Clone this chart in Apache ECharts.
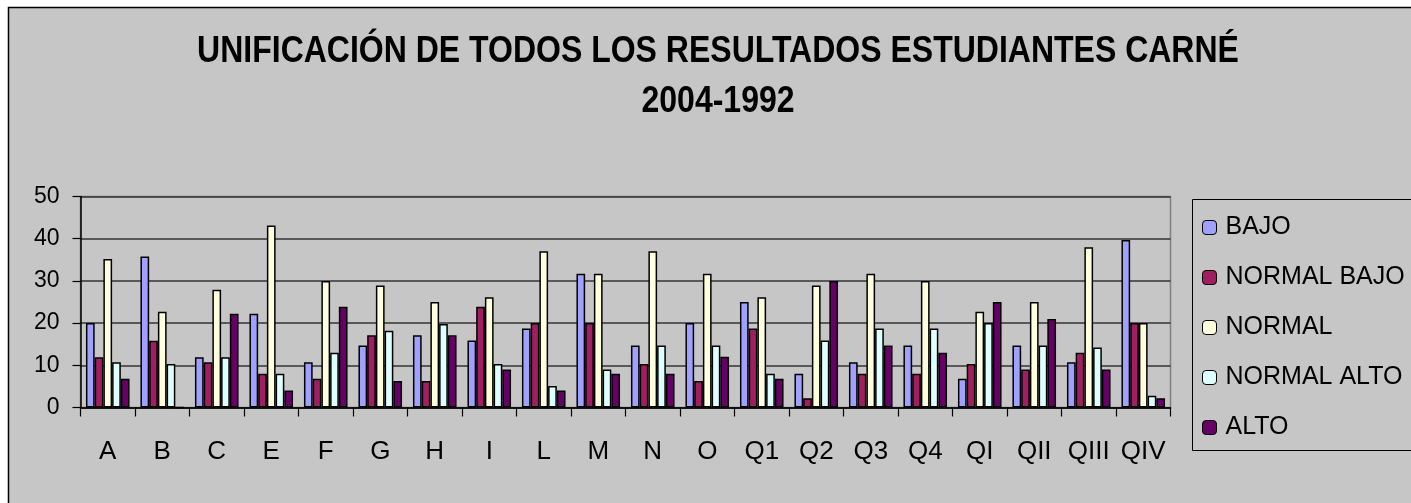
<!DOCTYPE html>
<html><head><meta charset="utf-8">
<script src="https://cdn.jsdelivr.net/npm/echarts@6/dist/echarts.min.js"></script>
<style>html,body{margin:0;padding:0;background:#fff;}#c{width:1411px;height:503px;}</style>
</head><body><div id="c"></div>
<script>
const categories = ['A','B','C','E','F','G','H','I','L','M','N','O','Q1','Q2','Q3','Q4','QI','QII','QIII','QIV'];
const bajo      = [20, 35.8, 11.9, 22.2, 10.7, 14.7, 17.1, 15.9, 18.7, 31.7, 14.7, 20, 25, 8, 10.7, 14.7, 6.8, 14.7, 10.7, 39.7];
const normalBajo= [11.9, 15.8, 10.7, 8, 6.8, 17.1, 6.3, 23.9, 20, 20, 10.3, 6.3, 18.7, 2.2, 8, 8, 10.3, 9, 13, 20];
const normal    = [35.2, 22.7, 27.9, 43.1, 30, 28.9, 25, 26.1, 37, 31.7, 37, 31.7, 26.1, 28.9, 31.7, 30, 22.7, 25, 38, 20];
const normalAlto= [10.7, 10.3, 11.9, 8, 13, 18.2, 19.8, 10.3, 5.1, 9, 14.7, 14.7, 8, 15.9, 18.7, 18.7, 20, 14.7, 14.2, 2.8];
const alto      = [6.8, 0, 22.2, 4, 23.9, 6.3, 17.1, 9, 4, 8, 8, 12, 6.8, 30, 14.7, 13, 25, 21, 9, 2.2];
const seriesNames = ['BAJO','NORMAL BAJO','NORMAL','NORMAL ALTO','ALTO'];
const titleLines = ['UNIFICACIÓN DE TODOS LOS RESULTADOS ESTUDIANTES CARNÉ','2004-1992'];
const yTicks = [0,10,20,30,40,50];

const colors = ['#a0a0ff','#a01f60','#ffffdd','#ddffff','#660066'];
const FONT = '"Liberation Sans", Arial, sans-serif';
const chart = echarts.init(document.getElementById('c'));
const dataSets = [bajo, normalBajo, normal, normalAlto, alto];

chart.setOption({
  backgroundColor: '#fff',
  animation: false,
  color: colors,
  graphic: [
    {type:'rect', z:-10, shape:{x:8.5,y:7.5,width:1420,height:520}, style:{fill:'#c6c6c6', stroke:'#000', lineWidth:1.5}},
    {type:'rect', z:-5, shape:{x:80.5,y:196.5,width:1090,height:211}, style:{fill:'none', stroke:'#808080', lineWidth:1.5}},
    {type:'rect', z:-5, shape:{x:1192.5,y:199.5,width:240,height:251}, style:{fill:'none', stroke:'#000', lineWidth:1}},
    {type:'text', x:718, y:52, scaleY:1.15, style:{text:titleLines[0], x:0, y:0, align:'center', verticalAlign:'middle', font:'bold 32px '+FONT, fill:'#000'}},
    {type:'text', x:718, y:102, scaleY:1.15, style:{text:titleLines[1], x:0, y:0, align:'center', verticalAlign:'middle', font:'bold 32px '+FONT, fill:'#000'}}
  ],
  grid: {left:80.5, right:1411-1170.5, top:196.5, bottom:503-407.5, containLabel:false},
  legend: {
    orient:'vertical', left:1202, top:215, padding:0, itemWidth:14, itemHeight:14, itemGap:25,
    data: seriesNames,
    textStyle:{fontSize:25, fontFamily:FONT, color:'#000', padding:[0,0,0,4]},
    itemStyle:{borderColor:'#000', borderWidth:1}
  },
  xAxis: {
    type:'category', data:categories,
    axisLine:{lineStyle:{color:'#000', width:1.5}},
    axisTick:{show:true, interval:0, length:9, lineStyle:{color:'#000', width:1.2}},
    axisLabel:{interval:0, fontSize:26, fontFamily:FONT, color:'#000', margin:31},
    splitLine:{show:false}
  },
  yAxis: {
    type:'value', min:0, max:50, interval:10,
    axisLine:{show:true, lineStyle:{color:'#000', width:1.5}},
    axisTick:{show:true, length:8, lineStyle:{color:'#000', width:1.2}},
    axisLabel:{fontSize:23, fontFamily:FONT, color:'#000', margin:21,
      formatter: v => yTicks.indexOf(v) >= 0 ? String(v) : ''},
    splitLine:{lineStyle:{color:'#333', width:1.5}}
  },
  series: seriesNames.map((n,i) => ({
    name:n, type:'bar', data:dataSets[i],
    barGap:'0%', barCategoryGap:'20%',
    itemStyle:{color:colors[i], borderColor:'#000', borderWidth:1.5}
  }))
});
</script></body></html>
